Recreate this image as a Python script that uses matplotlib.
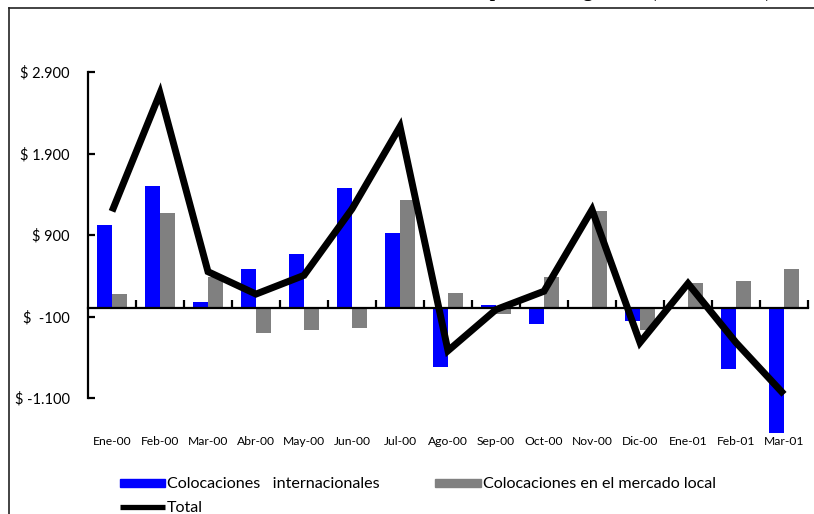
import matplotlib
matplotlib.use("Agg")
import matplotlib.pyplot as plt
from matplotlib.patches import Patch
from matplotlib.lines import Line2D
import numpy as np

plt.rcParams['font.family'] = ['Lato', 'DejaVu Sans']

months = ["Ene-00", "Feb-00", "Mar-00", "Abr-00", "May-00", "Jun-00", "Jul-00",
          "Ago-00", "Sep-00", "Oct-00", "Nov-00", "Dic-00", "Ene-01", "Feb-01", "Mar-01"]
internacionales = [1020, 1500, 80, 480, 670, 1480, 920, -720, 40, -195, 15, -160, 0, -750, -1530]
mercado_local = [180, 1170, 380, -300, -260, -235, 1330, 185, -70, 380, 1195, -270, 315, 335, 485]
total = [1190, 2640, 450, 175, 405, 1220, 2230, -520, -15, 210, 1210, -420, 305, -420, -1055]

y_ticks = [2900, 1900, 900, -100, -1100]
y_labels = [r"\$ 2.900", r"\$ 1.900", r"\$ 900", r"\$  -100", r"\$ -1.100"]

W, H = 814, 514
px_per_unit = 326 / 4000          # vertical scale of the value axis
y_min, y_max = -1700, 2900
ax_top = 72
ax_bottom = ax_top + (y_max - y_min) * px_per_unit

fig = plt.figure(figsize=(W / 100, H / 100), dpi=100)
ax = fig.add_axes([88 / W, 1 - ax_bottom / H, 720 / W, (ax_bottom - ax_top) / H])

x = np.arange(len(months))
bw = 0.32
ax.bar(x - bw, internacionales, width=bw, align='edge', color='#0000FF', zorder=2)
ax.bar(x, mercado_local, width=bw, align='edge', color='#808080', zorder=2)
ax.plot(x, total, color='black', lw=5, solid_joinstyle='miter', solid_capstyle='butt', zorder=4)

ax.set_xlim(-0.5, len(months) - 0.5)
ax.set_ylim(y_min, y_max)

for side in ('top', 'right'):
    ax.spines[side].set_visible(False)
ax.spines['left'].set_linewidth(1.6)
ax.spines['left'].set_bounds(y_ticks[-1], y_ticks[0])
ax.spines['bottom'].set_linewidth(1.6)
ax.spines['bottom'].set_position(('data', 0))
ax.spines['bottom'].set_zorder(3)

ax.set_yticks(y_ticks)
ax.set_yticklabels(y_labels, fontsize=10.5)
ax.tick_params(axis='y', direction='in', length=5, width=1.6, pad=13)

ax.set_xticks(x + 0.5)
ax.set_xticklabels([])
ax.tick_params(axis='x', direction='in', length=6, width=1.6)

label_y = -(441 - 308) / px_per_unit
for xi, m in zip(x, months):
    ax.text(xi, label_y, m, ha='center', va='center', fontsize=8.7, clip_on=False)

handles = [Patch(color='#0000FF'), Line2D([], [], color='black', lw=3.8, solid_capstyle='butt'),
           Patch(color='#808080')]
labels = ["Colocaciones   internacionales", "Total", "Colocaciones en el mercado local"]
fig.legend(handles, labels, ncol=2, loc='upper left', bbox_to_anchor=(120 / W, 1 - 477.5 / H),
           frameon=False, fontsize=11.6, handlelength=2.8, handleheight=0.43,
           handletextpad=0.13, columnspacing=3.45, borderpad=0, borderaxespad=0,
           labelspacing=0.56)

# frame around the chart area
fig.add_artist(Line2D([9 / W, 1], [1 - 8 / H, 1 - 8 / H], color='#222222', lw=1.2,
                      transform=fig.transFigure))
fig.add_artist(Line2D([9 / W, 9 / W], [0, 1 - 8 / H], color='#222222', lw=1.2,
                      transform=fig.transFigure))

fig.text(772 / W, 1 + 3 / H, "Emisiones de deuda corporativa argentina (US$ millones)",
         ha='right', va='baseline', fontsize=14, fontweight='bold',
         family=['Liberation Serif', 'DejaVu Serif'])

fig.savefig("out.png", dpi=100)
